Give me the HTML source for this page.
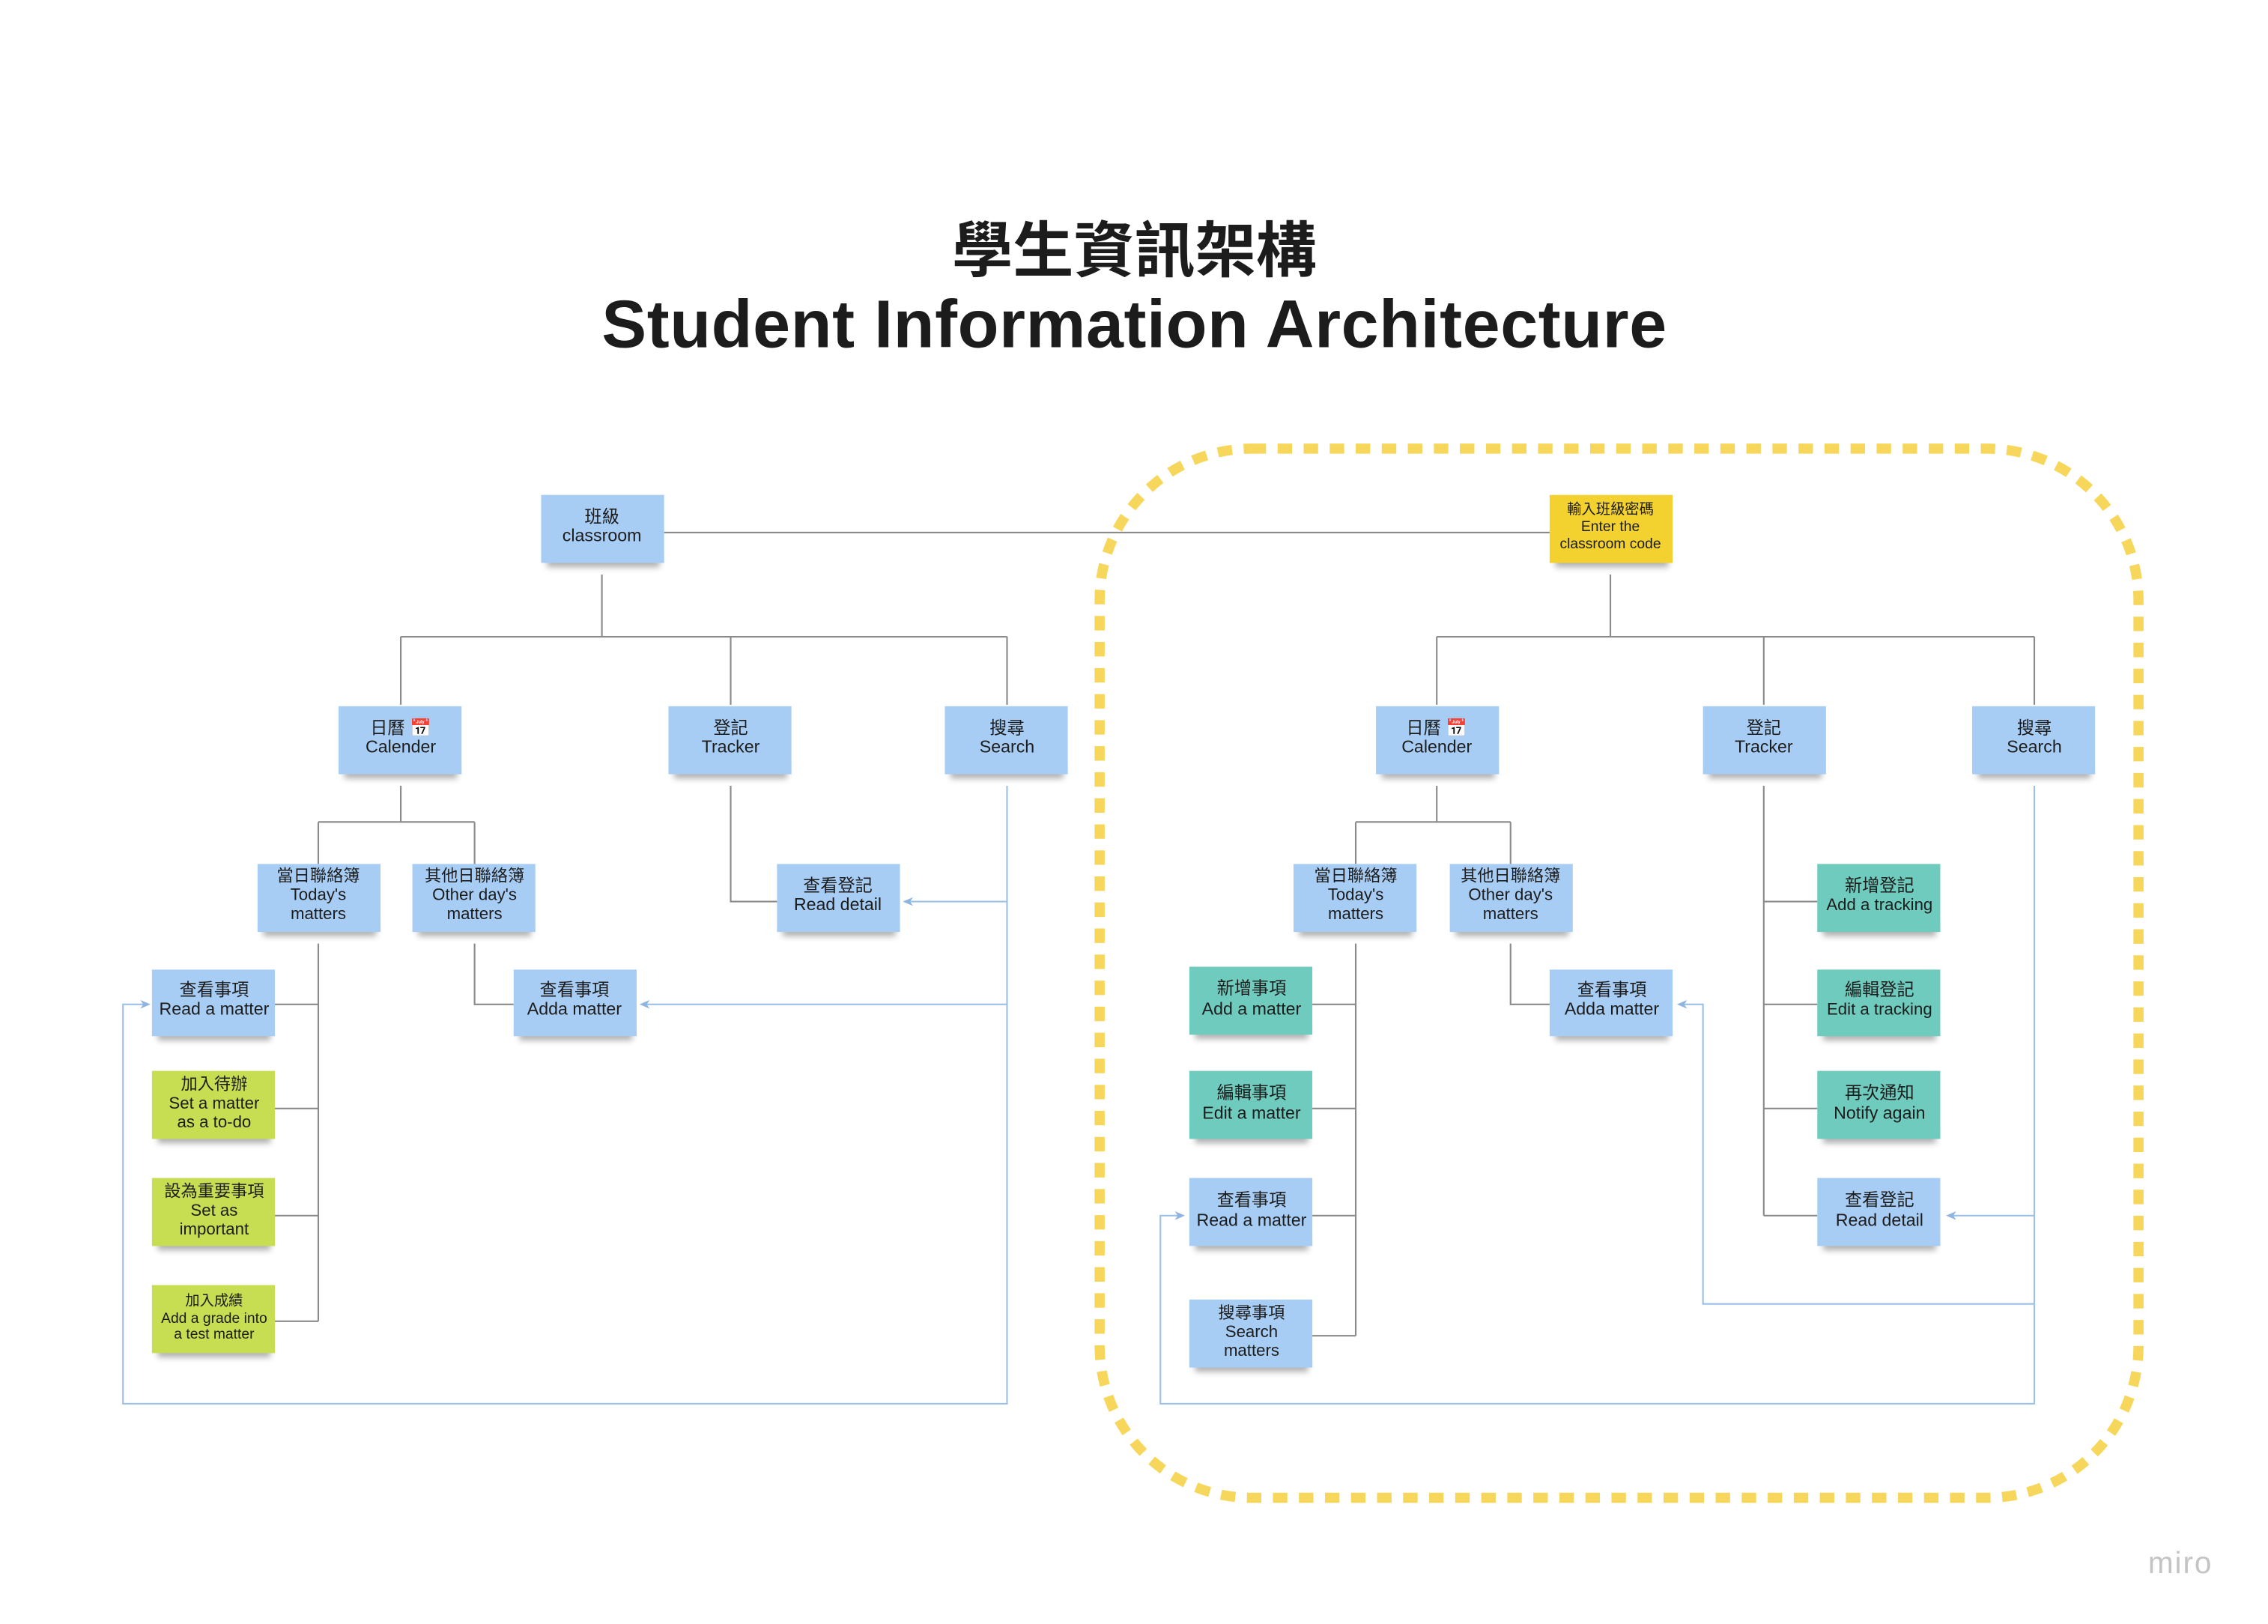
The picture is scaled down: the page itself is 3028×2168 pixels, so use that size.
<!DOCTYPE html>
<html><head><meta charset="utf-8"><style>
html,body{margin:0;padding:0;background:#fff;overflow:hidden;width:3028px;height:2168px;}
svg{display:block;}
text{font-family:"Liberation Sans","Noto Sans CJK TC",sans-serif;fill:#1c1c1c;text-anchor:middle;}
.g{stroke:#8a8a8a;stroke-width:1.1;fill:none;}
.b{stroke:#9cc0e6;stroke-width:1.1;fill:none;}
</style></head><body>
<svg width="3028" height="2168" viewBox="0 0 1567.5 1122.2" preserveAspectRatio="none" xmlns="http://www.w3.org/2000/svg">
<defs>
<filter id="sh" x="-20%" y="-20%" width="140%" height="160%"><feGaussianBlur stdDeviation="2"/></filter>
<g id="ah"><path d="M0,0 L7,-3 L5,0 L7,3 Z" fill="#8fb4e0"/></g>
</defs>
<rect width="1567" height="1122" fill="#fff"/>
<text x="784" y="188" style="font-size:42px;font-weight:bold;font-family:'Noto Sans CJK TC',sans-serif">學生資訊架構</text>
<text x="784" y="240" style="font-size:46.5px;font-weight:bold;letter-spacing:0.3px">Student Information Architecture</text>

<rect x="760" y="310" width="718" height="725" rx="105" ry="105" fill="none" stroke="#f6d75c" stroke-width="7" stroke-dasharray="10 8"/>

<path class="g" d="M459,368 H1071 M416,397 V440 M277,440 H696 M277,440 V487 M505,440 V487 M696,440 V487
M277,543 V568 M220,568 H328 M220,568 V597 M328,568 V597
M505,543 V623 H537 M328,652 V694 H355
M220,652 V913 M190,694 H220 M190,766 H220 M190,840 H220 M190,913 H220"/>
<path class="b" d="M696,543 V970 H85 V694 H100 M696,623 H628 M696,694 H446"/>
<use href="#ah" x="98" y="694" transform="rotate(180 101 694)"/>
<use href="#ah" x="624" y="623"/>
<use href="#ah" x="442" y="694"/>

<path class="g" d="M1113,397 V440 M993,440 H1406 M993,440 V487 M1219,440 V487 M1406,440 V487
M993,543 V568 M937,568 H1044 M937,568 V597 M1044,568 V597
M1044,652 V694 H1071
M937,652 V923 M907,694 H937 M907,766 H937 M907,840 H937 M907,923 H937
M1219,543 V840 M1219,623 H1256 M1219,694 H1256 M1219,766 H1256 M1219,840 H1256"/>
<path class="b" d="M1406,543 V970 H802 V840 H815 M1406,840 H1350 M1406,901 H1177 V694 H1164"/>
<use href="#ah" x="813" y="840" transform="rotate(180 816 840)"/>
<use href="#ah" x="1345" y="840"/>
<use href="#ah" x="1159" y="694"/>

<g>
<rect x="378" y="382" width="78" height="10" fill="#555" opacity=".45" filter="url(#sh)"/><rect x="374" y="342" width="85" height="47" fill="#a8cdf4"/>
<text x="416" y="361" font-size="12">班級</text><text x="416" y="374" font-size="12">classroom</text>

<rect x="1075" y="382" width="78" height="10" fill="#555" opacity=".45" filter="url(#sh)"/><rect x="1071" y="342" width="85" height="47" fill="#f3d12e"/>
<text x="1113" y="355" font-size="10">輸入班級密碼</text><text x="1113" y="367" font-size="10">Enter the</text><text x="1113" y="379" font-size="10">classroom code</text>

<rect x="238" y="528" width="78" height="10" fill="#555" opacity=".45" filter="url(#sh)"/><rect x="234" y="488" width="85" height="47" fill="#a8cdf4"/>
<text x="277" y="507" font-size="12">日曆 📅</text><text x="277" y="520" font-size="12">Calender</text>
<rect x="466" y="528" width="78" height="10" fill="#555" opacity=".45" filter="url(#sh)"/><rect x="462" y="488" width="85" height="47" fill="#a8cdf4"/>
<text x="505" y="507" font-size="12">登記</text><text x="505" y="520" font-size="12">Tracker</text>
<rect x="657" y="528" width="78" height="10" fill="#555" opacity=".45" filter="url(#sh)"/><rect x="653" y="488" width="85" height="47" fill="#a8cdf4"/>
<text x="696" y="507" font-size="12">搜尋</text><text x="696" y="520" font-size="12">Search</text>

<rect x="182" y="637" width="78" height="10" fill="#555" opacity=".45" filter="url(#sh)"/><rect x="178" y="597" width="85" height="47" fill="#a8cdf4"/>
<text x="220" y="609" font-size="11.5">當日聯絡簿</text><text x="220" y="622" font-size="11.5">Today's</text><text x="220" y="635" font-size="11.5">matters</text>
<rect x="289" y="637" width="78" height="10" fill="#555" opacity=".45" filter="url(#sh)"/><rect x="285" y="597" width="85" height="47" fill="#a8cdf4"/>
<text x="328" y="609" font-size="11.5">其他日聯絡簿</text><text x="328" y="622" font-size="11.5">Other day's</text><text x="328" y="635" font-size="11.5">matters</text>
<rect x="541" y="637" width="78" height="10" fill="#555" opacity=".45" filter="url(#sh)"/><rect x="537" y="597" width="85" height="47" fill="#a8cdf4"/>
<text x="579" y="616" font-size="12">查看登記</text><text x="579" y="629" font-size="12">Read detail</text>
<rect x="359" y="709" width="78" height="10" fill="#555" opacity=".45" filter="url(#sh)"/><rect x="355" y="670" width="85" height="46" fill="#a8cdf4"/>
<text x="397" y="688" font-size="12">查看事項</text><text x="397" y="701" font-size="12">Adda matter</text>

<rect x="109" y="709" width="78" height="10" fill="#555" opacity=".45" filter="url(#sh)"/><rect x="105" y="670" width="85" height="46" fill="#a8cdf4"/>
<text x="148" y="688" font-size="12">查看事項</text><text x="148" y="701" font-size="12">Read a matter</text>
<rect x="109" y="780" width="78" height="10" fill="#555" opacity=".45" filter="url(#sh)"/><rect x="105" y="740" width="85" height="47" fill="#c8de52"/>
<text x="148" y="753" font-size="11.5">加入待辦</text><text x="148" y="766" font-size="11.5">Set a matter</text><text x="148" y="779" font-size="11.5">as a to-do</text>
<rect x="109" y="854" width="78" height="10" fill="#555" opacity=".45" filter="url(#sh)"/><rect x="105" y="814" width="85" height="47" fill="#c8de52"/>
<text x="148" y="827" font-size="11.5">設為重要事項</text><text x="148" y="840" font-size="11.5">Set as</text><text x="148" y="853" font-size="11.5">important</text>
<rect x="109" y="928" width="78" height="10" fill="#555" opacity=".45" filter="url(#sh)"/><rect x="105" y="888" width="85" height="47" fill="#c8de52"/>
<text x="148" y="902" font-size="10">加入成績</text><text x="148" y="914" font-size="10">Add a grade into</text><text x="148" y="925" font-size="10">a test matter</text>

<rect x="955" y="528" width="78" height="10" fill="#555" opacity=".45" filter="url(#sh)"/><rect x="951" y="488" width="85" height="47" fill="#a8cdf4"/>
<text x="993" y="507" font-size="12">日曆 📅</text><text x="993" y="520" font-size="12">Calender</text>
<rect x="1181" y="528" width="78" height="10" fill="#555" opacity=".45" filter="url(#sh)"/><rect x="1177" y="488" width="85" height="47" fill="#a8cdf4"/>
<text x="1219" y="507" font-size="12">登記</text><text x="1219" y="520" font-size="12">Tracker</text>
<rect x="1367" y="528" width="78" height="10" fill="#555" opacity=".45" filter="url(#sh)"/><rect x="1363" y="488" width="85" height="47" fill="#a8cdf4"/>
<text x="1406" y="507" font-size="12">搜尋</text><text x="1406" y="520" font-size="12">Search</text>

<rect x="898" y="637" width="78" height="10" fill="#555" opacity=".45" filter="url(#sh)"/><rect x="894" y="597" width="85" height="47" fill="#a8cdf4"/>
<text x="937" y="609" font-size="11.5">當日聯絡簿</text><text x="937" y="622" font-size="11.5">Today's</text><text x="937" y="635" font-size="11.5">matters</text>
<rect x="1006" y="637" width="78" height="10" fill="#555" opacity=".45" filter="url(#sh)"/><rect x="1002" y="597" width="85" height="47" fill="#a8cdf4"/>
<text x="1044" y="609" font-size="11.5">其他日聯絡簿</text><text x="1044" y="622" font-size="11.5">Other day's</text><text x="1044" y="635" font-size="11.5">matters</text>
<rect x="1075" y="709" width="78" height="10" fill="#555" opacity=".45" filter="url(#sh)"/><rect x="1071" y="670" width="85" height="46" fill="#a8cdf4"/>
<text x="1114" y="688" font-size="12">查看事項</text><text x="1114" y="701" font-size="12">Adda matter</text>

<rect x="826" y="708" width="78" height="10" fill="#555" opacity=".45" filter="url(#sh)"/><rect x="822" y="668" width="85" height="47" fill="#6ecbbd"/>
<text x="865" y="687" font-size="12">新增事項</text><text x="865" y="701" font-size="12">Add a matter</text>
<rect x="826" y="780" width="78" height="10" fill="#555" opacity=".45" filter="url(#sh)"/><rect x="822" y="740" width="85" height="47" fill="#6ecbbd"/>
<text x="865" y="759" font-size="12">編輯事項</text><text x="865" y="773" font-size="12">Edit a matter</text>
<rect x="826" y="854" width="78" height="10" fill="#555" opacity=".45" filter="url(#sh)"/><rect x="822" y="814" width="85" height="47" fill="#a8cdf4"/>
<text x="865" y="833" font-size="12">查看事項</text><text x="865" y="847" font-size="12">Read a matter</text>
<rect x="826" y="938" width="78" height="10" fill="#555" opacity=".45" filter="url(#sh)"/><rect x="822" y="898" width="85" height="47" fill="#a8cdf4"/>
<text x="865" y="911" font-size="11.5">搜尋事項</text><text x="865" y="924" font-size="11.5">Search</text><text x="865" y="937" font-size="11.5">matters</text>

<rect x="1260" y="637" width="78" height="10" fill="#555" opacity=".45" filter="url(#sh)"/><rect x="1256" y="597" width="85" height="47" fill="#6ecbbd"/>
<text x="1299" y="616" font-size="12">新增登記</text><text x="1299" y="629" font-size="11.5">Add a tracking</text>
<rect x="1260" y="709" width="78" height="10" fill="#555" opacity=".45" filter="url(#sh)"/><rect x="1256" y="670" width="85" height="46" fill="#6ecbbd"/>
<text x="1299" y="688" font-size="12">編輯登記</text><text x="1299" y="701" font-size="11.5">Edit a tracking</text>
<rect x="1260" y="780" width="78" height="10" fill="#555" opacity=".45" filter="url(#sh)"/><rect x="1256" y="740" width="85" height="47" fill="#6ecbbd"/>
<text x="1299" y="759" font-size="12">再次通知</text><text x="1299" y="773" font-size="12">Notify again</text>
<rect x="1260" y="854" width="78" height="10" fill="#555" opacity=".45" filter="url(#sh)"/><rect x="1256" y="814" width="85" height="47" fill="#a8cdf4"/>
<text x="1299" y="833" font-size="12">查看登記</text><text x="1299" y="847" font-size="12">Read detail</text>
</g>

<text x="1507" y="1087" font-size="21" style="fill:#c4c4c4;letter-spacing:1px">miro</text>
</svg>
</body></html>
